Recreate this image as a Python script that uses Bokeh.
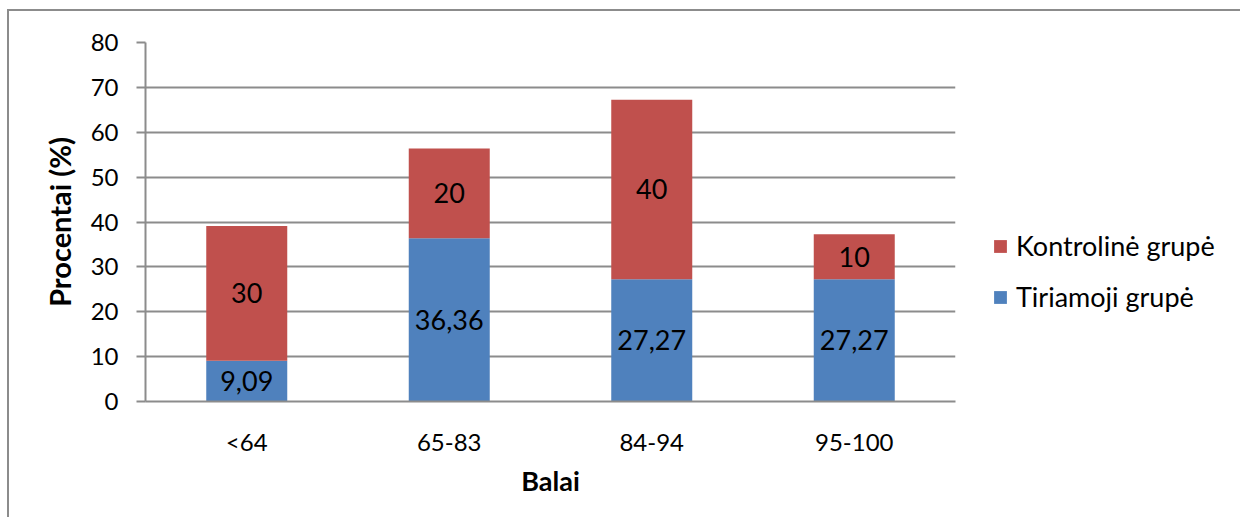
from bokeh.plotting import figure
from bokeh.models import (ColumnDataSource, Legend, LegendItem, FixedTicker,
                          LabelSet)
from bokeh.core.properties import value
from bokeh.embed import file_html
from bokeh.resources import INLINE

# Score bands and the share of each group (%)
categories = ["<64", "65-83", "84-94", "95-100"]
tiriamoji = [9.09, 36.36, 27.27, 27.27]
kontroline = [30, 20, 40, 10]
y_ticks = [0, 10, 20, 30, 40, 50, 60, 70, 80]

RED = "#C0504D"
BLUE = "#4F81BD"
GRID = "#8C8C8C"
FONT = "Lato"


def fmt(v):
    s = ("%.2f" % v).rstrip("0").rstrip(".")
    return s.replace(".", ",")


src = ColumnDataSource(dict(
    cat=categories,
    tiriamoji=tiriamoji,
    kontroline=kontroline,
    t_mid=[t / 2 for t in tiriamoji],
    k_mid=[t + k / 2 for t, k in zip(tiriamoji, kontroline)],
    t_lab=[fmt(v) for v in tiriamoji],
    k_lab=[fmt(v) for v in kontroline],
))

# The figure sits inside a thin grey chart-area border (left and top edges)
p = figure(x_range=categories, y_range=(0, 80),
           frame_width=810, frame_height=359,
           output_backend="svg", toolbar_location=None,
           min_border_left=136, min_border_right=0,
           min_border_top=31, min_border_bottom=116,
           styles={"margin-left": "7px", "margin-top": "9px",
                   "border-left": "2px solid #8C8C8C",
                   "border-top": "2px solid #8C8C8C"})
p.outline_line_color = None
p.background_fill_color = "white"
p.border_fill_color = "white"

r = p.vbar_stack(["tiriamoji", "kontroline"], x="cat", width=0.4, source=src,
                 color=[BLUE, RED], line_color=None)

# Segment value labels
for ycol, tcol in (("t_mid", "t_lab"), ("k_mid", "k_lab")):
    p.add_layout(LabelSet(x="cat", y=ycol, text=tcol, source=src,
                          text_align="center", text_baseline="middle",
                          text_font=value(FONT), text_font_size="27px",
                          text_color="black"))

# Axes and grid
p.xgrid.grid_line_color = None
p.ygrid.grid_line_color = GRID
p.ygrid.grid_line_width = 2
p.yaxis.ticker = FixedTicker(ticks=y_ticks)
p.yaxis.minor_tick_line_color = None
p.yaxis.major_tick_in = 0
p.yaxis.major_tick_out = 9
p.yaxis.major_tick_line_color = GRID
p.yaxis.major_tick_line_width = 2
p.yaxis.axis_line_color = GRID
p.yaxis.axis_line_width = 2
p.yaxis.major_label_standoff = 18
p.yaxis.axis_label = "Procentai (%)"
p.yaxis.axis_label_standoff = 11

p.xaxis.major_tick_line_color = None
p.xaxis.minor_tick_line_color = None
p.xaxis.axis_line_color = GRID
p.xaxis.axis_line_width = 2
p.xaxis.major_label_standoff = 19
p.xaxis.axis_label = "Balai"
p.xaxis.axis_label_standoff = 5

for ax in (p.xaxis[0], p.yaxis[0]):
    ax.major_label_text_font = FONT
    ax.major_label_text_font_size = "24px"
    ax.major_label_text_color = "black"
    ax.axis_label_text_font = FONT
    ax.axis_label_text_font_size = "27px"
    ax.axis_label_text_font_style = "bold"
    ax.axis_label_text_color = "black"
p.yaxis.axis_label_text_font_size = "29px"

legend = Legend(items=[LegendItem(label="Kontrolinė grupė", renderers=[r[1]]),
                       LegendItem(label="Tiriamoji grupė", renderers=[r[0]])],
                location=(37, 88), orientation="vertical",
                glyph_width=16, glyph_height=16, label_standoff=8,
                spacing=18, padding=0, margin=0,
                border_line_color=None, background_fill_alpha=0,
                label_text_font=FONT, label_text_font_size="27px",
                label_text_color="black")
p.add_layout(legend, "right")

open("out.html", "w").write(file_html(p, INLINE))
